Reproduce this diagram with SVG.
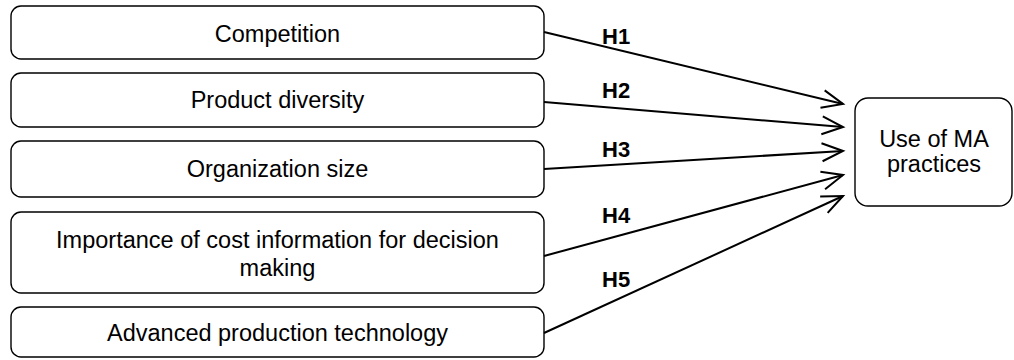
<svg xmlns="http://www.w3.org/2000/svg" width="1014" height="360" viewBox="0 0 1014 360">
<style>
.box{fill:#fff;stroke:#000;stroke-width:1.4}
.lbl{font-family:"Liberation Sans",Arial,sans-serif;font-size:23.5px;fill:#000;text-anchor:middle}
.h{font-family:"Liberation Sans",Arial,sans-serif;font-size:22px;font-weight:bold;fill:#000}
.con{stroke:#000;stroke-width:2;fill:none;marker-end:url(#arr)}
</style>
<defs>
<marker id="arr" markerUnits="userSpaceOnUse" viewBox="-24 -12 28 24" refX="0" refY="0" markerWidth="28" markerHeight="24" orient="auto">
<path d="M -21 -9 L 0 0 L -21 9" fill="none" stroke="#000" stroke-width="2"/>
</marker>
</defs>
<rect width="1014" height="360" fill="#fff"/>
<g id="n1"><rect class="box" x="11" y="6" width="533" height="53" rx="10"/><text class="lbl" x="277.5" y="42">Competition</text></g>
<g id="n2"><rect class="box" x="11" y="73" width="533" height="54" rx="10"/><text class="lbl" x="277.5" y="108">Product diversity</text></g>
<g id="n3"><rect class="box" x="11" y="141" width="533" height="56" rx="10"/><text class="lbl" x="277.5" y="177">Organization size</text></g>
<g id="n4"><rect class="box" x="11" y="212" width="533" height="81" rx="10"/><text class="lbl" x="277.5" y="248">Importance of cost information for decision</text><text class="lbl" x="277.5" y="276">making</text></g>
<g id="n5"><rect class="box" x="11" y="307" width="533" height="50" rx="10"/><text class="lbl" x="277.5" y="341">Advanced production technology</text></g>
<g id="n6"><rect class="box" x="855" y="98" width="157" height="108" rx="13"/><text class="lbl" x="934" y="147">Use of MA</text><text class="lbl" x="934" y="172">practices</text></g>
<g id="connectors">
<line class="con" x1="544" y1="32" x2="843" y2="104"/>
<line class="con" x1="544" y1="102" x2="843" y2="127"/>
<line class="con" x1="544" y1="169" x2="843" y2="151"/>
<line class="con" x1="544" y1="256" x2="843" y2="175"/>
<line class="con" x1="544" y1="333" x2="843" y2="196"/>
<text class="h" x="602" y="44">H1</text>
<text class="h" x="602" y="98">H2</text>
<text class="h" x="602" y="157">H3</text>
<text class="h" x="602" y="223">H4</text>
<text class="h" x="602" y="287">H5</text>
</g>
</svg>
